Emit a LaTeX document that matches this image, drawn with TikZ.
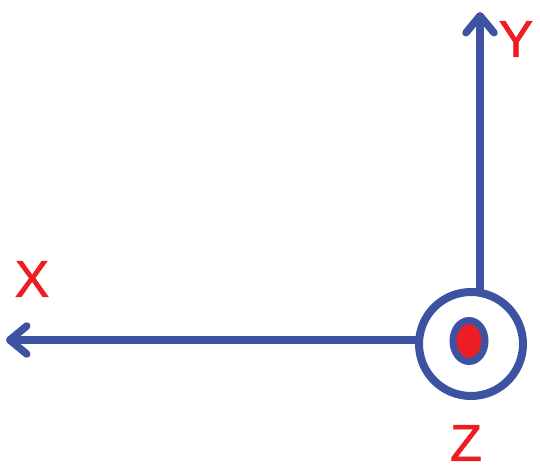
\documentclass[tikz,border=0pt]{standalone}
\usepackage{fontspec}
\setmainfont{Liberation Sans}
\newfontfamily\lblfont[FakeBold=1.2]{Liberation Sans}
\usetikzlibrary{arrows.meta,shapes.geometric}
\definecolor{axblue}{RGB}{62,82,162}
\definecolor{axred}{RGB}{236,30,36}
\tikzset{
  axis/.style={draw=axblue, line width=7.5pt, -{Straight Barb[length=17pt,width=28pt,round]}},
  lbl/.style={text=axred, inner sep=0pt, font=\lblfont\fontsize{52}{52}\selectfont},
}
\begin{document}
\begin{tikzpicture}[x=1pt,y=-1pt]
\useasboundingbox (0,0) rectangle (540,468);
\coordinate (ystart) at (480,330);
\coordinate (ytip) at (480,12);
\coordinate (xstart) at (460,340);
\coordinate (xtip) at (6,340);
\draw[axis] (ystart) -- (ytip);
\draw[axis] (xstart) -- (xtip);
\node[circle, draw=axblue, fill=white, line width=8pt, minimum size=104pt, inner sep=0pt] (o) at (471,344) {};
\node[ellipse, draw=axblue, fill=axred, line width=7pt, minimum width=32pt, minimum height=41pt, inner sep=0pt] (c) at (469,341) {};
\node[lbl] (Y) at (516,39) {Y};
\node[lbl] (X) at (32,279) {X};
\node[lbl] (Z) at (466,443) {Z};
\end{tikzpicture}
\end{document}
